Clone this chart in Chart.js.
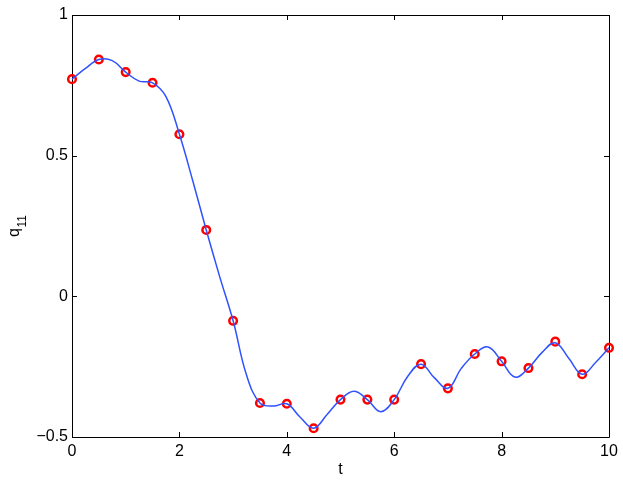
<!DOCTYPE html>
<html>
<head>
<meta charset="utf-8">
<title>q11 vs t</title>
<script src="https://cdn.jsdelivr.net/npm/chart.js@4.4.0/dist/chart.umd.min.js"></script>
<style>
    html, body { margin: 0; padding: 0; background: #fff; }
    #wrap { width: 623px; height: 481px; }
</style>
</head>
<body>
<div id="wrap"><canvas id="q11Chart" width="623" height="481"></canvas></div>
<script>
// sampled values (red circles)
var sampleT = [0, 0.5, 1, 1.5, 2, 2.5, 3, 3.5, 4, 4.5, 5, 5.5, 6, 6.5, 7, 7.5, 8, 8.5, 9, 9.5, 10];
var sampleQ = [0.772, 0.842, 0.797, 0.759, 0.576, 0.236, -0.087, -0.379, -0.382, -0.469, -0.367,
    -0.367, -0.367, -0.241, -0.327, -0.205, -0.231, -0.255, -0.161, -0.277, -0.183];

// smooth curve (blue line), every 0.25
var curveT = [0, 0.25, 0.5, 0.75, 1, 1.25, 1.5, 1.75, 2, 2.25, 2.5, 2.75, 3, 3.25, 3.5, 3.75, 4, 4.25,
    4.5, 4.75, 5, 5.25, 5.5, 5.75, 6, 6.25, 6.5, 6.75, 7, 7.25, 7.5, 7.75, 8, 8.25, 8.5, 8.75, 9, 9.25,
    9.5, 9.75, 10];
var curveQ = [0.772, 0.81, 0.842, 0.838, 0.797, 0.765, 0.759, 0.71, 0.576, 0.41, 0.236, 0.07, -0.087,
    -0.28, -0.379, -0.39, -0.382, -0.43, -0.469, -0.42, -0.367, -0.337, -0.367, -0.41, -0.367, -0.285,
    -0.241, -0.29, -0.327, -0.256, -0.205, -0.18, -0.231, -0.287, -0.255, -0.2, -0.165, -0.22, -0.277,
    -0.235, -0.183];

var xTicks = [0, 2, 4, 6, 8, 10];
var yTicks = [-0.5, 0, 0.5, 1];

var FONT = "'Liberation Sans', Arial, Helvetica, sans-serif";

function toPts(xs, ys) {
    return xs.map(function (x, i) { return { x: x, y: ys[i] }; });
}

// box + inward ticks, matlab style
var boxTicks = {
    id: 'boxTicks',
    beforeDatasetsDraw: function (chart) {
        var ctx = chart.ctx, a = chart.chartArea;
        var xs = chart.scales.x, ys = chart.scales.y;
        var len = 5;
        ctx.save();
        ctx.strokeStyle = '#000';
        ctx.lineWidth = 1;
        ctx.beginPath();
        ctx.rect(Math.round(a.left) + 0.5, Math.round(a.top) + 0.5,
            Math.round(a.right - a.left), Math.round(a.bottom - a.top));
        xTicks.forEach(function (v) {
            var px = Math.round(xs.getPixelForValue(v)) + 0.5;
            ctx.moveTo(px, a.bottom); ctx.lineTo(px, a.bottom - len);
            ctx.moveTo(px, a.top); ctx.lineTo(px, a.top + len);
        });
        yTicks.forEach(function (v) {
            var py = Math.round(ys.getPixelForValue(v)) + 0.5;
            ctx.moveTo(a.left, py); ctx.lineTo(a.left + len, py);
            ctx.moveTo(a.right, py); ctx.lineTo(a.right - len, py);
        });
        ctx.stroke();
        ctx.restore();
    },
    // y label q with subscript 11 (tex style)
    afterDraw: function (chart) {
        var ctx = chart.ctx, a = chart.chartArea;
        var midY = (a.top + a.bottom) / 2;
        ctx.save();
        ctx.fillStyle = '#000';
        ctx.translate(19, midY + 11);
        ctx.rotate(-Math.PI / 2);
        ctx.textAlign = 'left';
        ctx.textBaseline = 'alphabetic';
        ctx.font = '16px ' + FONT;
        ctx.fillText('q', 0, 0);
        var w = ctx.measureText('q').width;
        ctx.font = '12px ' + FONT;
        ctx.fillText('11', w + 0.5, 7);
        ctx.restore();
    }
};

var ctx = document.getElementById('q11Chart').getContext('2d');
var chart = new Chart(ctx, {
    type: 'line',
    data: {
        datasets: [{
            label: 'q11',
            data: toPts(curveT, curveQ),
            borderColor: '#2f52ff',
            borderWidth: 1.5,
            pointRadius: 0,
            tension: 0.4,
            fill: false,
            clip: false
        }, {
            label: 'samples',
            data: toPts(sampleT, sampleQ),
            showLine: false,
            pointRadius: 3.8,
            pointBorderWidth: 2.5,
            pointBorderColor: '#ff0000',
            pointBackgroundColor: 'rgba(0,0,0,0)',
            clip: false
        }]
    },
    options: {
        responsive: false,
        animation: false,
        devicePixelRatio: 1,
        layout: { padding: { left: 0, right: 14, top: 15, bottom: 1 } },
        plugins: {
            legend: { display: false },
            tooltip: { enabled: false }
        },
        scales: {
            x: {
                type: 'linear',
                min: 0,
                max: 10,
                afterBuildTicks: function (s) { s.ticks = xTicks.map(function (v) { return { value: v }; }); },
                afterFit: function (s) { s.height = 43; },
                grid: { display: false, drawTicks: false },
                border: { display: false },
                ticks: { color: '#000', padding: 5, maxRotation: 0, font: { family: FONT, size: 16 } },
                title: { display: true, text: 't', color: '#000', padding: { top: 0, bottom: 1 }, font: { family: FONT, size: 16 } }
            },
            y: {
                type: 'linear',
                min: -0.5,
                max: 1,
                afterBuildTicks: function (s) { s.ticks = yTicks.map(function (v) { return { value: v }; }); },
                afterFit: function (s) { s.width = 72; },
                grid: { display: false, drawTicks: false },
                border: { display: false },
                ticks: {
                    color: '#000', padding: 4, font: { family: FONT, size: 16 },
                    callback: function (v) { return String(v).replace('-', '\u2212'); }
                },
                title: { display: false }
            }
        }
    },
    plugins: [boxTicks]
});
</script>
</body>
</html>
